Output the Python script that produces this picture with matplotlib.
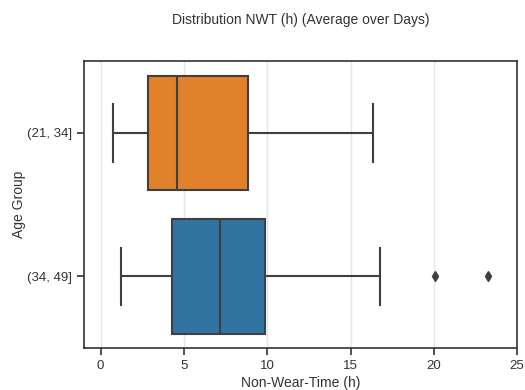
import matplotlib
matplotlib.use("Agg")
import matplotlib.pyplot as plt

# values
groups = ["(21, 34]", "(34, 49]"]
whislo = [0.75, 1.2]
q1 = [2.85, 4.3]
med = [4.6, 7.15]
q3 = [8.85, 9.85]
whishi = [16.35, 16.75]
fliers = [[], [20.1, 23.25]]
colors = ["#e1812c", "#3274a1"]

plt.rcParams["font.family"] = ["Liberation Sans", "DejaVu Sans"]
plt.rcParams["font.size"] = 10

fig, ax = plt.subplots(figsize=(5.25, 3.9), dpi=100)

stats = []
for i in range(len(groups)):
    stats.append(dict(label=groups[i], whislo=whislo[i], q1=q1[i], med=med[i],
                      q3=q3[i], whishi=whishi[i], fliers=fliers[i]))

line_col = "#3f3f3f"
bp = ax.bxp(stats, positions=range(len(groups)), vert=False, widths=0.8,
            patch_artist=True, showcaps=True,
            boxprops=dict(edgecolor=line_col, linewidth=1.5),
            medianprops=dict(color=line_col, linewidth=1.5),
            whiskerprops=dict(color=line_col, linewidth=1.5),
            capprops=dict(color=line_col, linewidth=1.5),
            flierprops=dict(marker="d", markerfacecolor=line_col,
                            markeredgecolor=line_col, markersize=5))
for patch, c in zip(bp["boxes"], colors):
    patch.set_facecolor(c)
for cap in bp["caps"]:
    # seaborn-like caps span half the box width
    y = cap.get_ydata()
    mid = (y[0] + y[1]) / 2
    cap.set_ydata([mid - 0.2, mid + 0.2])

ax.set_xlim(-1, 25)
ax.set_ylim(1.5, -0.5)
ax.set_yticks(range(len(groups)))
ax.set_yticklabels(groups)
ax.set_xticks([0, 5, 10, 15, 20, 25])
ax.xaxis.grid(True, color="#e5e5e5", linewidth=1)
ax.set_axisbelow(True)
for s in ax.spines.values():
    s.set_color("#333333")
    s.set_linewidth(1.2)
ax.tick_params(colors="#333333", labelcolor="#333333", length=5, width=1.2,
               labelsize=9.5)

ax.set_xlabel("Non-Wear-Time (h)", color="#333333", fontsize=10, labelpad=3)
ax.set_ylabel("Age Group", color="#333333", fontsize=10, labelpad=1)
ax.set_title("Distribution NWT (h) (Average over Days)", pad=27, color="#333333",
             fontsize=10)

fig.subplots_adjust(left=0.16, right=0.985, top=0.843, bottom=0.108)
fig.savefig("out.png")
